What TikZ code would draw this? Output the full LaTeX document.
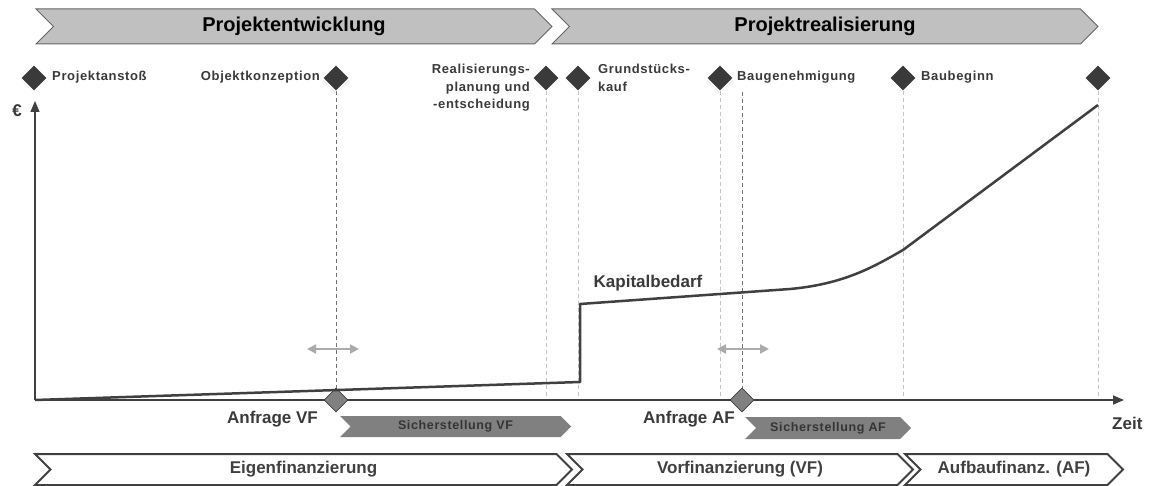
\documentclass[tikz,border=0pt]{standalone}
\usepackage{fontspec}
\setmainfont{Liberation Sans}
\newfontfamily\gesperrt[LetterSpace=5]{Liberation Sans}
\usetikzlibrary{shapes.geometric,arrows.meta,positioning}

\definecolor{dunkel}{HTML}{3A3A3A}
\definecolor{linie}{HTML}{404040}
\definecolor{balken}{HTML}{C0C0C0}
\definecolor{mittel}{HTML}{808080}
\definecolor{hell}{HTML}{C4C4C4}
\definecolor{pfeilgrau}{HTML}{ABABAB}

% chevron: style, text style, name, x left, x tip, y top, y bottom, text
\newcommand{\phase}[8]{%
  \pgfmathsetmacro{\hh}{(#7-#6)/2}%
  \draw[#1] (#4,#6) -- ({#5-\hh},#6) -- (#5,{#6+\hh}) -- ({#5-\hh},#7) -- (#4,#7) -- ({#4+\hh},{#6+\hh}) -- cycle;
  \node[#2] (#3) at ({(#4+#5)/2},{#6+\hh}) {#8};}

\begin{document}
\begin{tikzpicture}[x=1pt,y=-1pt,
  oben/.style={fill=balken,draw=linie!80,line width=1pt},
  obentext/.style={font=\fontsize{20}{24}\selectfont\bfseries,text=black},
  unten/.style={fill=white,draw=linie,line width=2pt},
  untentext/.style={font=\fontsize{17}{20}\selectfont\bfseries,text=linie},
  sicher/.style={fill=mittel,draw=none},
  sichertext/.style={font=\gesperrt\fontsize{12.5}{14}\selectfont\bfseries,text=dunkel!90!black},
  meilenstein/.style={diamond,fill=dunkel,inner sep=0pt,minimum size=25pt},
  anfrage/.style={diamond,fill=mittel,draw=linie,line width=0.8pt,inner sep=0pt,minimum size=24pt},
  mtext/.style={font=\gesperrt\fontsize{13}{17.5}\selectfont\bfseries,text=dunkel,inner sep=0pt},
  gross/.style={font=\fontsize{17}{20}\selectfont\bfseries,text=dunkel,inner sep=0pt},
  achse/.style={draw=linie,line width=1.5pt,-{Triangle[length=11pt,width=9pt]}},
  hilfslinie/.style={draw=hell,line width=1pt,dash pattern=on 4pt off 3pt},
  anfragelinie/.style={draw=mittel!90!black,line width=1pt,dash pattern=on 4pt off 3pt},
  spiel/.style={draw=pfeilgrau,line width=2pt,{Triangle[length=9pt,width=9pt]}-{Triangle[length=9pt,width=9pt]}},
  kurve/.style={draw=linie,line width=2.5pt,line join=round}]
\useasboundingbox (0,0) rectangle (1150,486);

% phases on top
\phase{oben}{obentext}{pe}{36}{552}{9}{44}{Projektentwicklung}
\phase{oben}{obentext}{pr}{552}{1098}{9}{44}{Projektrealisierung}

% milestones
\node[meilenstein] (m1) at (34,78) {};
\node[meilenstein] (m2) at (336,78) {};
\node[meilenstein] (m3) at (546,78) {};
\node[meilenstein] (m4) at (578,78) {};
\node[meilenstein] (m5) at (720,78) {};
\node[meilenstein] (m6) at (903,78) {};
\node[meilenstein] (m7) at (1098,78) {};

\node[mtext,anchor=west] (l1) at (52,77) {Projektanstoß};
\node[mtext,anchor=east] (l2) at (320,77) {Objektkonzeption};
\node[mtext,anchor=north east,align=right] (l3) at (530,64) {Realisierungs-\\planung und\\-entscheidung};
\node[mtext,anchor=north west,align=left] (l4) at (598,64) {Grundstücks-\\kauf};
\node[mtext,anchor=west] (l5) at (737,77) {Baugenehmigung};
\node[mtext,anchor=west] (l6) at (921,77) {Baubeginn};

% axes
\coordinate (o) at (35,400);
\coordinate (xe) at (1124,400);
\coordinate (ye) at (35,101);
\foreach \m in {m3,m4,m5,m6,m7}
  \draw[hilfslinie] (\m.south) -- (\m.south |- o);
\draw[achse] (o) -- (xe);
\draw[achse] (o) -- (ye);
\node[gross] (eur) at (17,111) {€};
\node[gross,anchor=west] (zeit) at (1112,423) {Zeit};

% requests
\node[anfrage] (a1) at (336,400) {};
\node[anfrage] (a2) at (742,400) {};
\coordinate (a2o) at (742,92);
\draw[anfragelinie] (m2.south) -- (a1.north);
\draw[anfragelinie] (a2o) -- (a2.north);
\draw[spiel] (307,349) -- (359,349);
\draw[spiel] (717,349) -- (769,349);
\node[gross,anchor=east] (vf) at (318,419) {Anfrage VF};
\node[gross,anchor=east] (af) at (735,419) {Anfrage AF};

% capital requirement
\draw[kurve] (o) -- (580,382) -- (580,304) -- (790,289)
  .. controls (845,284) and (875,266) .. (903,250) -- (1098,105);
\node[gross] (kb) at (648,283) {Kapitalbedarf};

\phase{sicher}{sichertext}{svf}{340}{571}{416}{437}{Sicherstellung VF}
\phase{sicher}{sichertext}{saf}{745}{911}{417}{439}{Sicherstellung AF}

% financing
\phase{unten}{untentext}{ef}{35}{572}{454}{485}{Eigenfinanzierung}
\phase{unten}{untentext}{vfin}{567}{913}{454}{485}{Vorfinanzierung (VF)}
\phase{unten}{untentext}{afin}{905}{1123}{454}{485}{Aufbaufinanz. (AF)}
\end{tikzpicture}
\end{document}
